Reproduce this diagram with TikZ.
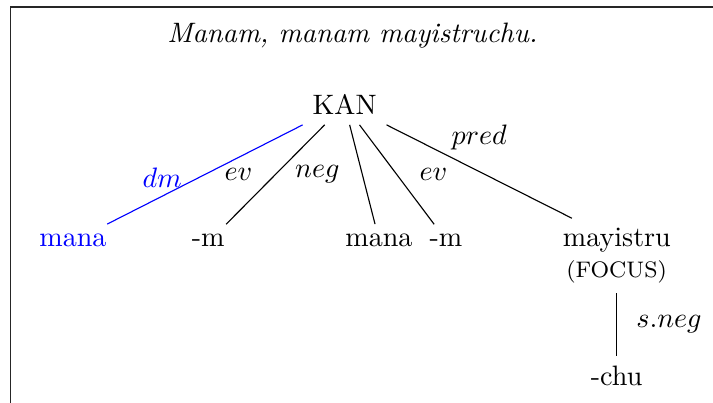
\documentclass[tikz,border=0pt]{standalone}
\usepackage{xcolor}
\usepackage{tikz}
\usetikzlibrary{positioning}
\tikzset{
  word/.style  = {anchor=base, inner sep=3.33pt},
  lab/.style   = {inner sep=3.33pt},
  dep/.style   = {line width=0.4pt, draw=black},
  dmdep/.style = {line width=0.4pt, draw=blue},
  frame/.style = {line width=0.6pt, draw=black!85},
}

\begin{document}
\begin{tikzpicture}
  \clip (0,0) rectangle (8.92,5.04);
  \draw[frame] (0.13,-1) rectangle (10,4.953);

  \node[word] (title) at (4.409,4.503) {\textit{Manam, manam mayistruchu.}};
  \node[word] (kan) at (4.311,3.602) {KAN};

  \node[word,text=blue] (mana1) at (0.913,1.955) {mana};
  \node[word] (m1)       at (2.605,1.955) {-m};
  \node[word] (mana2)    at (4.741,1.955) {mana};
  \node[word] (m2)       at (5.579,1.955) {-m};
  \node[word] (mayistru) at (7.717,1.955) {mayistru};
  \node[word,font=\footnotesize] (focus) at (7.714,1.567) {(FOCUS)};
  \node[word] (chu)      at (7.714,0.219) {-chu};

  \draw[dmdep] (kan.south west) -- node[lab,pos=0.53,left=2.6pt,text=blue] {$dm$} ([xshift=-3.3pt]mana1.north east);
  \draw[dep] ([xshift=-7.1pt]kan.south) -- node[lab,left=4.7pt] {$ev$} ([xshift=-3pt]m1.north east);
  \draw[dep] ([xshift=1.8pt]kan.south) -- node[lab,left=4.6pt] {$neg$} ([xshift=-1.4pt]mana2.north);
  \draw[dep] ([xshift=5.3pt]kan.south) -- node[lab,right=4.6pt] {$ev$} ([xshift=-4.2pt]m2.north);
  \draw[dep] (kan.south east) -- node[lab,above=4.3pt] {$pred$} ([xshift=-16pt]mayistru.north);
  \draw[dep] (focus) -- node[lab,right=3.5pt] {$s.neg$} (chu);
\end{tikzpicture}
\end{document}
